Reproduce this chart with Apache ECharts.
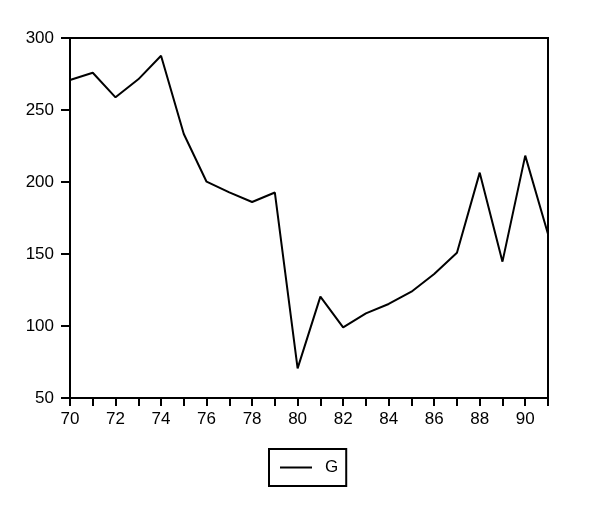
<!DOCTYPE html>
<html><head><meta charset="utf-8">
<script src="https://cdn.jsdelivr.net/npm/echarts@6/dist/echarts.min.js"></script>
<style>html,body{margin:0;padding:0;background:#fff}#c{width:597px;height:512px}</style>
</head><body><div id="c"></div>
<script>
const years = ['70','71','72','73','74','75','76','77','78','79','80','81','82','83','84','85','86','87','88','89','90','91'];
const G = [270.8,275.9,258.8,271.3,287.7,233.3,200.2,192.8,186.1,192.7,70.6,120.4,99.1,108.8,115.3,123.8,136.1,150.9,206.5,144.7,218.3,163.9];
const yTicks = {min:50, max:300, interval:50};

const chart = echarts.init(document.getElementById('c'), null, {renderer:'canvas'});
const font = {fontFamily:'Liberation Sans, Arial, sans-serif', fontSize:17, color:'#000'};
chart.setOption({
  animation:false,
  backgroundColor:'#fff',
  grid:{left:70, right:49, top:38, bottom:114, show:true, borderColor:'#000', borderWidth:2, backgroundColor:'transparent'},
  xAxis:{
    type:'category', data:years, boundaryGap:false,
    axisLine:{lineStyle:{color:'#000', width:2}},
    axisTick:{show:true, interval:0, length:8, lineStyle:{color:'#000', width:2}},
    axisLabel:Object.assign({interval:1, margin:13}, font),
    splitLine:{show:false}
  },
  yAxis:{
    type:'value', min:yTicks.min, max:yTicks.max, interval:yTicks.interval,
    axisLine:{show:true, lineStyle:{color:'#000', width:2}},
    axisTick:{show:true, length:9, lineStyle:{color:'#000', width:2}},
    axisLabel:Object.assign({margin:16}, font),
    splitLine:{show:false}
  },
  legend:{
    data:[{name:'G', icon:'rect'}], left:269, top:449, orient:'horizontal',
    borderColor:'#000', borderWidth:2, padding:[10,8,10,11],
    itemWidth:32, itemHeight:2, itemGap:6,
    textStyle:Object.assign({padding:[0,0,0,8]}, font)
  },
  series:[{
    name:'G', type:'line', data:G, symbol:'none',
    lineStyle:{color:'#000', width:2}, itemStyle:{color:'#000'}
  }]
});
</script></body></html>
